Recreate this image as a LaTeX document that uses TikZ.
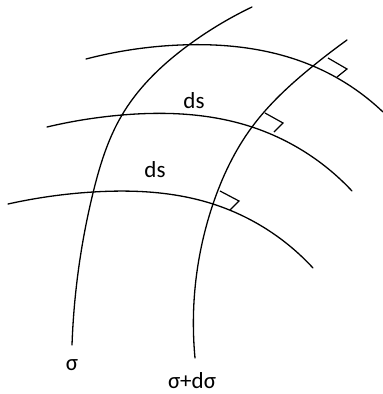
\documentclass[tikz,border=0pt]{standalone}
\usepackage{fontspec}
\setmainfont{Carlito}
\usetikzlibrary{hobby}
\begin{document}
\begin{tikzpicture}[x=1pt,y=-1pt,
  curve/.style={line width=1.3pt,line cap=round,use Hobby shortcut},
  rmark/.style={line width=1.2pt},
  lbl/.style={font=\fontsize{23}{25}\selectfont,inner sep=0pt,anchor=base}]
\useasboundingbox (0,0) rectangle (383,394);
% sigma curve
\draw[curve] (252,7) .. (190,44) .. (122,115) .. (93,193) .. (72,345);
% sigma + d sigma curve
\draw[curve] (347,40) .. (313,66) .. (252,127) .. (213,204) .. (195,358);
% top arc
\draw[curve] (86,59) .. (180,45) .. (313,66) .. (383,112);
% middle arc
\draw[curve] (47,127) .. (122,115) .. (252,127) .. (352,191);
% lower arc
\draw[curve] (8,204) .. (93,192) .. (213,204) .. (313,268);
% right angle marks
\draw[rmark] (328,58) -- (347,69) -- (337,77);
\draw[rmark] (265,113) -- (283,123) -- (274,132);
\draw[rmark] (220,191) -- (239,201) -- (230,210);
% labels
\node[lbl] (ds1) at (194,108) {ds};
\node[lbl] (ds2) at (155,177) {ds};
\node[lbl] (sig) at (72,370) {σ};
\node[lbl] (sigd) at (192,388) {σ+dσ};
\end{tikzpicture}
\end{document}
